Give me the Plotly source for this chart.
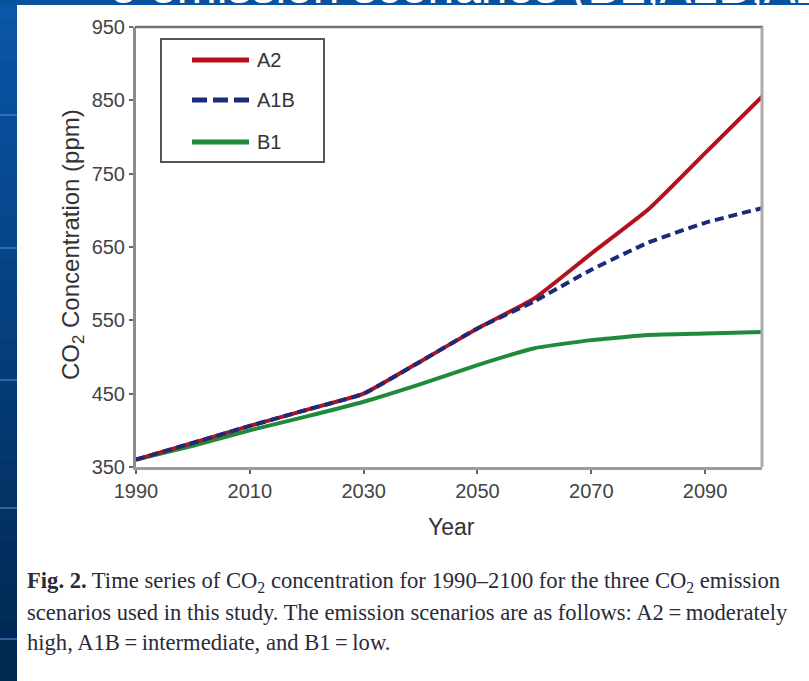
import plotly.graph_objects as go

# CO2 concentration (ppm) under three emission scenarios
years = [1990, 2000, 2010, 2020, 2030, 2040, 2050, 2060, 2070, 2080, 2090, 2100]
a2 = [360, 383, 406, 428, 450, 494, 539, 580, 641, 701, 778, 855]
a1b = [360, 383, 406, 428, 450, 494, 539, 576, 619, 656, 683, 703]
b1 = [360, 379, 400, 419, 439, 463, 489, 512, 523, 530, 532, 534]

x_ticks = [1990, 2010, 2030, 2050, 2070, 2090]
y_ticks = [350, 450, 550, 650, 750, 850, 950]

W, H = 809, 681


def px(x):
    return x / W


def py(y):
    return 1 - y / H


# plot-area edges in pixels
L, R, T, B = 136, 762, 27, 467

fig = go.Figure()

series = [
    ("A2", a2, "#b3121d", "solid"),
    ("A1B", a1b, "#1c2a7a", "9px,5px"),
    ("B1", b1, "#1f8a3a", "solid"),
]
# B1 first, then A2, with the dashed A1B drawn over the red line
for name, vals, col, dash in [series[2], series[0], series[1]]:
    fig.add_trace(go.Scatter(
        x=years, y=vals, mode="lines", name=name, showlegend=False,
        line=dict(color=col, width=4, dash=dash, shape="spline", smoothing=0.4),
        xaxis="x", yaxis="y",
    ))

# slide title strip text (clipped to the thin band at the top)
fig.add_trace(go.Scatter(
    x=[110], y=[14], mode="text", text=["e emission scenarios (B1,A1B,A2)"],
    textposition="middle right", showlegend=False, hoverinfo="skip",
    textfont=dict(family="Liberation Sans, Arial", size=48, color="white"),
    cliponaxis=True, xaxis="x2", yaxis="y2",
))

tick_font = dict(family="Liberation Sans, Arial", size=20, color="#444444")

fig.update_layout(
    width=W, height=H, autosize=False,
    margin=dict(l=0, r=0, t=0, b=0, pad=0),
    paper_bgcolor="white", plot_bgcolor="white",
    xaxis=dict(
        domain=[px(L), px(R)], range=[1990, 2100], tickvals=x_ticks,
        showgrid=False, zeroline=False, showline=True, linecolor="#9c9c9c",
        linewidth=3, ticks="outside", ticklen=4, tickwidth=2, tickcolor="#666",
        tickfont=tick_font, anchor="y", automargin=False,
    ),
    yaxis=dict(
        domain=[py(B), py(T)], range=[350, 950], tickvals=y_ticks,
        showgrid=False, zeroline=False, showline=True, linecolor="#8c8c8c",
        linewidth=3, ticks="outside", ticklen=4, tickwidth=2, tickcolor="#666",
        tickfont=tick_font, anchor="x", automargin=False,
    ),
    xaxis2=dict(domain=[0, 1], range=[0, W], visible=False, anchor="y2",
                automargin=False),
    yaxis2=dict(domain=[py(5), 1], range=[0, 5], visible=False, anchor="x2",
                automargin=False),
    showlegend=False,
)

shapes = []
# slide background: left strip as a vertical gradient of bands
n_bands = 34
top_c = (10, 86, 168)
bot_c = (0, 40, 80)
for i in range(n_bands):
    t = i / (n_bands - 1)
    c = tuple(int(top_c[k] + (bot_c[k] - top_c[k]) * t) for k in range(3))
    y0 = i * H / n_bands
    y1 = (i + 1) * H / n_bands + 1
    shapes.append(dict(type="rect", xref="paper", yref="paper", layer="below",
                       x0=0, x1=px(17), y0=py(y1), y1=py(y0),
                       line=dict(width=0), fillcolor="rgb(%d,%d,%d)" % c))
# top strip
shapes.append(dict(type="rect", xref="paper", yref="paper", layer="below",
                   x0=0, x1=1, y0=py(5), y1=1, line=dict(width=0),
                   fillcolor="rgb(8,82,160)"))
# faint horizontal lines on the left strip
for yy in [115, 248, 380, 508, 639]:
    shapes.append(dict(type="line", xref="paper", yref="paper", layer="below",
                       x0=0, x1=px(17), y0=py(yy), y1=py(yy),
                       line=dict(color="rgba(80,140,210,0.55)", width=2)))

# top and right frame lines of the plot box
shapes.append(dict(type="line", xref="paper", yref="paper",
                   x0=px(L - 1), x1=px(R + 1), y0=py(T), y1=py(T),
                   line=dict(color="#707070", width=2.5)))
shapes.append(dict(type="line", xref="paper", yref="paper",
                   x0=px(R), x1=px(R), y0=py(B), y1=py(T),
                   line=dict(color="#ababab", width=3)))

# legend box with line samples
shapes.append(dict(type="rect", xref="paper", yref="paper",
                   x0=px(161), x1=px(324), y0=py(162), y1=py(39),
                   line=dict(color="#555555", width=2), fillcolor="white"))
leg_y = {"A2": 60, "A1B": 100, "B1": 142}
for name, vals, col, dash in series:
    shapes.append(dict(type="line", xref="paper", yref="paper",
                       x0=px(192), x1=px(249), y0=py(leg_y[name]), y1=py(leg_y[name]),
                       line=dict(color=col, width=5,
                                 dash="15px,6px" if dash != "solid" else "solid")))

annotations = []
for name, vals, col, dash in series:
    annotations.append(dict(xref="paper", yref="paper", x=px(255), y=py(leg_y[name]),
                            xanchor="left", yanchor="middle", showarrow=False,
                            text=name, font=dict(family="Liberation Sans, Arial",
                                                 size=20, color="#333333")))

# axis titles
annotations.append(dict(xref="paper", yref="paper", x=px(451), y=py(527),
                        xanchor="center", yanchor="middle", showarrow=False,
                        text="Year", font=dict(family="Liberation Sans, Arial",
                                               size=23, color="#333333")))
annotations.append(dict(xref="paper", yref="paper", x=px(72), y=py(245),
                        xanchor="center", yanchor="middle", showarrow=False,
                        textangle=-90, text="CO<sub>2</sub> Concentration (ppm)",
                        font=dict(family="Liberation Sans, Arial", size=24,
                                  color="#333333")))

# figure caption
cap_font = dict(family="Liberation Serif, Times New Roman", size=22.6, color="#2a2a3a")
caption = [
    "<b>Fig. 2.</b> Time series of CO<sub>2</sub> concentration for 1990\u20132100 "
    "for the three CO<sub>2</sub> emission",
    "scenarios used in this study. The emission scenarios are as follows: A2\u2009=\u2009moderately",
    "high, A1B\u2009=\u2009intermediate, and B1\u2009=\u2009low.",
]
for i, line in enumerate(caption):
    annotations.append(dict(xref="paper", yref="paper", x=px(25), y=py(582 + 30 * i),
                            xanchor="left", yanchor="middle", showarrow=False,
                            text=line, font=cap_font))

fig.update_layout(shapes=shapes, annotations=annotations)
fig.write_html("out.html")
